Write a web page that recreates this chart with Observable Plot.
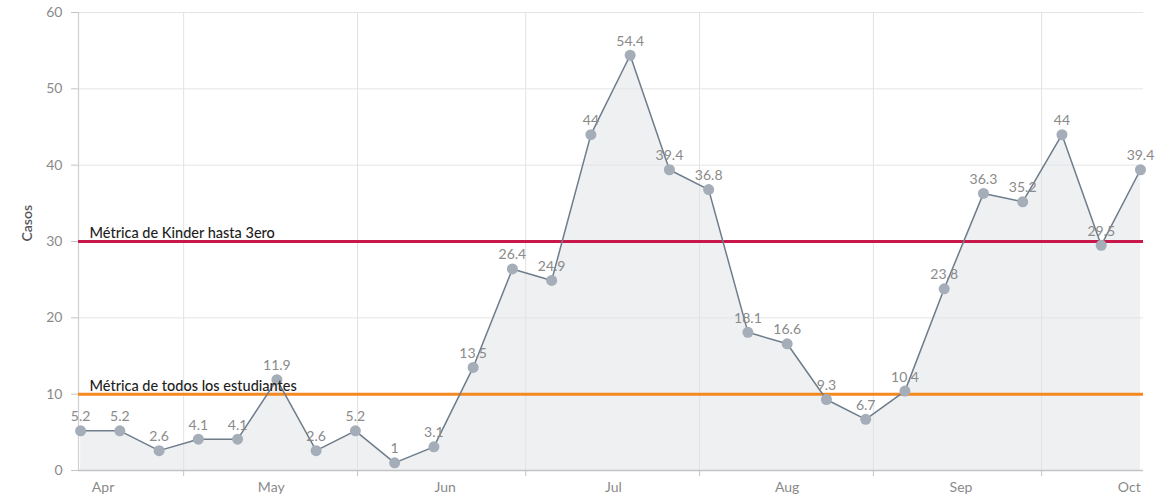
<!DOCTYPE html>
<html>
<head>
<meta charset="utf-8">
<script src="https://cdn.jsdelivr.net/npm/d3@7"></script>
<script src="https://cdn.jsdelivr.net/npm/@observablehq/plot@0.6"></script>
<style>
  html, body { margin: 0; padding: 0; background: #fff; }
  #chart svg { display: block; font-family: Lato, "Open Sans", sans-serif; }
</style>
</head>
<body>
<div id="chart"></div>
<script>
// ---- data ----
const weekDates = [
  "2021-04-12","2021-04-19","2021-04-26","2021-05-03","2021-05-10","2021-05-17","2021-05-24",
  "2021-05-31","2021-06-07","2021-06-14","2021-06-21","2021-06-28","2021-07-05","2021-07-12",
  "2021-07-19","2021-07-26","2021-08-02","2021-08-09","2021-08-16","2021-08-23","2021-08-30",
  "2021-09-06","2021-09-13","2021-09-20","2021-09-27","2021-10-04","2021-10-11","2021-10-18"
];
const casos = [
  5.2, 5.2, 2.6, 4.1, 4.1, 11.9, 2.6,
  5.2, 1, 3.1, 13.5, 26.4, 24.9, 44,
  54.4, 39.4, 36.8, 18.1, 16.6, 9.3, 6.7,
  10.4, 23.8, 36.3, 35.2, 44, 29.5, 39.4
];
const monthStarts = ["2021-05-01","2021-06-01","2021-07-01","2021-08-01","2021-09-01","2021-10-01"];
const monthMids = ["2021-04-16","2021-05-16","2021-06-16","2021-07-16","2021-08-16","2021-09-16","2021-10-16"];
const monthLabels = ["Apr","May","Jun","Jul","Aug","Sep","Oct"];
const yTicks = [0, 10, 20, 30, 40, 50, 60];
const metricValues = [30, 10];
const metricLabels = ["Métrica de Kinder hasta 3ero", "Métrica de todos los estudiantes"];
const metricColors = ["#c8174a", "#f5891f"];

// ---- build tables ----
const parse = d3.utcParse("%Y-%m-%d");
const rows = weekDates.map((d, i) => ({date: parse(d), value: casos[i]}));
const starts = monthStarts.map(parse);
const mids = monthMids.map(parse);
const metrics = metricValues.map((v, i) => ({value: v, label: metricLabels[i], color: metricColors[i]}));
const xDomain = [new Date(Date.UTC(2021, 3, 11, 15)), new Date(Date.UTC(2021, 9, 18, 13))];

const chart = Plot.plot({
  width: 1166,
  height: 499,
  marginLeft: 78,
  marginRight: 23,
  marginTop: 12,
  marginBottom: 29,
  style: {fontFamily: "Lato, 'Open Sans', sans-serif", background: "#fff"},
  x: {type: "utc", domain: xDomain, axis: null},
  y: {domain: [0, 60], axis: null},
  marks: [
    Plot.areaY(rows, {x: "date", y: "value", fill: "#d9dde3", fillOpacity: 0.45}),
    Plot.gridY(yTicks.filter(d => d > 0), {stroke: "#e4e4e4", strokeOpacity: 1}),
    Plot.ruleX(starts, {stroke: "#e2e2e2", strokeOpacity: 1, dx: -3.5}),
    Plot.ruleX([xDomain[0]], {stroke: "#cfcfcf", strokeWidth: 1.2}),
    Plot.ruleY([0], {stroke: "#c4c4c4", strokeWidth: 1.5}),
    Plot.axisY({ticks: yTicks, tickSize: 7, tickPadding: 9, fontSize: 14, stroke: "#c4c4c4", fill: "#8a8a8a", label: null}),
    Plot.axisX({ticks: starts, tickSize: 6, tickFormat: () => "", stroke: "#c4c4c4", label: null, dx: -3.5}),
    Plot.axisX({ticks: mids, tickSize: 0, tickPadding: 12, tickFormat: (d, i) => monthLabels[i], fontSize: 14, fill: "#8a8a8a", label: null}),
    Plot.text(["Casos"], {frameAnchor: "left", dx: -51, rotate: -90, fontSize: 14, fill: "#555", fontWeight: 600}),
    Plot.ruleY(metrics, {y: "value", stroke: "color", strokeWidth: 3}),
    Plot.line(rows, {x: "date", y: "value", stroke: "#6e7c8b", strokeWidth: 1.5}),
    Plot.dot(rows, {x: "date", y: "value", r: 5.5, fill: "#a4adb8", stroke: "none"}),
    Plot.text(rows, {x: "date", y: "value", text: d => String(d.value), dy: -14, fontSize: 14, fill: "#8a8a8a"}),
    Plot.text(metrics, {x: () => xDomain[0], y: "value", text: "label", textAnchor: "start", dx: 11, dy: -8, fontSize: 14.5, fill: "#1e1e1e", fontWeight: 500})
  ]
});
document.getElementById("chart").append(chart);
</script>
</body>
</html>
